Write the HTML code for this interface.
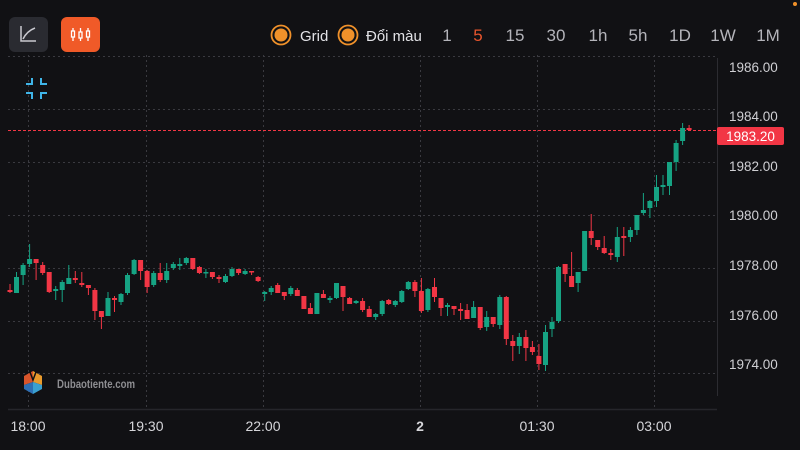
<!DOCTYPE html>
<html><head><meta charset="utf-8"><style>
html,body{margin:0;padding:0;background:#111114;}
svg{display:block}
text{font-family:"Liberation Sans",sans-serif}
</style></head><body>
<svg width="800" height="450" viewBox="0 0 800 450" xmlns="http://www.w3.org/2000/svg">
<rect width="800" height="450" fill="#111114"/>
<circle cx="795" cy="4" r="2" fill="#f0912a"/>
<rect x="9" y="17" width="39" height="35" rx="6" fill="#2a2b31"/>
<path d="M21 26 V41 H36" stroke="#c9c9cf" stroke-width="1.5" fill="none"/>
<path d="M23 39 Q27 31 35 28" stroke="#c9c9cf" stroke-width="1.5" fill="none"/>
<rect x="61" y="17" width="39" height="35" rx="6" fill="#f05a28"/>
<g stroke="#fff" stroke-width="1.3" fill="none">
<path d="M73 28 V41 M80.5 28 V41 M88 28 V41"/>
<rect x="71.5" y="31" width="3" height="6" fill="#f05a28"/>
<rect x="79" y="32" width="3" height="6" fill="#f05a28"/>
<rect x="86.5" y="31" width="3" height="6" fill="#f05a28"/>
</g>
<circle cx="281" cy="35" r="9.5" fill="none" stroke="#f0912a" stroke-width="1.8"/>
<circle cx="281" cy="35" r="6.5" fill="#f0912a"/>
<text x="300" y="41" font-size="15" fill="#e2e2e6">Grid</text>
<circle cx="348" cy="35" r="9.5" fill="none" stroke="#f0912a" stroke-width="1.8"/>
<circle cx="348" cy="35" r="6.5" fill="#f0912a"/>
<text x="366" y="41" font-size="15" fill="#e2e2e6">Đổi màu</text>
<g font-size="17" fill="#b4b4ba" text-anchor="middle">
<text x="447" y="41">1</text>
<text x="478" y="41" fill="#e8552d">5</text>
<text x="515" y="41">15</text>
<text x="556" y="41">30</text>
<text x="598" y="41">1h</text>
<text x="638" y="41">5h</text>
<text x="680" y="41">1D</text>
<text x="723" y="41">1W</text>
<text x="768" y="41">1M</text>
</g>
<g stroke="#3a3a40" stroke-width="1" stroke-dasharray="2 3">
<path d="M8 56.5H717 M8 109.5H717 M8 162.5H717 M8 215.5H717 M8 268.5H717 M8 321.5H717 M8 373.5H717"/>
<path d="M28.5 55V409 M146.5 55V409 M263.5 55V409 M420.5 55V409 M537.5 55V409 M654.5 55V409"/>
</g>
<path d="M8 409.5H717" stroke="#26262b" stroke-width="1.5"/>
<path d="M717.5 58V396" stroke="#2c2c31" stroke-width="1"/>
<g stroke="#3fb5e8" stroke-width="2" fill="none">
<path d="M26 84 H32 V78"/>
<path d="M47 84 H41 V78"/>
<path d="M26 93 H32 V99"/>
<path d="M47 93 H41 V99"/>
</g>
<g>
<polygon points="24,376 33,371 33,382 24,385" fill="#d9552b"/>
<polygon points="33,371 42,376 42,385 33,382" fill="#e89a2c"/>
<polygon points="24,385 33,382 33,394 24,389" fill="#2d6fb5"/>
<polygon points="33,382 42,385 42,389 33,394" fill="#3aa0d0"/>
<path d="M30 372 L33 380 L36 372" stroke="#111114" stroke-width="1.5" fill="none"/>
</g>
<text x="57" y="388" font-size="12" font-weight="bold" fill="#8e8e92" textLength="78" lengthAdjust="spacingAndGlyphs">Dubaotiente.com</text>
<path d="M8 130.5H717" stroke="#f23645" stroke-width="1" stroke-dasharray="3 2"/>
<g fill="#16a383">
<rect x="16" y="272" width="1" height="21"/><rect x="14" y="277" width="5" height="16"/>
<rect x="22.6" y="263" width="1" height="22"/><rect x="20.6" y="265" width="5" height="10"/>
<rect x="29.1" y="244" width="1" height="23"/><rect x="27.1" y="259" width="5" height="5"/>
<rect x="55.2" y="286" width="1" height="14"/><rect x="53.2" y="289" width="5" height="2"/>
<rect x="61.7" y="280" width="1" height="22"/><rect x="59.7" y="282" width="5" height="8"/>
<rect x="68.3" y="265" width="1" height="19"/><rect x="66.3" y="278" width="5" height="6"/>
<rect x="107.5" y="292" width="1" height="24"/><rect x="105.5" y="298" width="5" height="18"/>
<rect x="120.5" y="293" width="1" height="12"/><rect x="118.5" y="294" width="5" height="8"/>
<rect x="127" y="273" width="1" height="22"/><rect x="125" y="275" width="5" height="18"/>
<rect x="133.6" y="259" width="1" height="16"/><rect x="131.6" y="260" width="5" height="14"/>
<rect x="153.2" y="271" width="1" height="16"/><rect x="151.2" y="273" width="5" height="12"/>
<rect x="166.2" y="263" width="1" height="20"/><rect x="164.2" y="271" width="5" height="9"/>
<rect x="172.8" y="262" width="1" height="8"/><rect x="170.8" y="264" width="5" height="4"/>
<rect x="179.3" y="258" width="1" height="12"/><rect x="177.3" y="264" width="5" height="2"/>
<rect x="185.8" y="257" width="1" height="8"/><rect x="183.8" y="258" width="5" height="5"/>
<rect x="205.4" y="269" width="1" height="9"/><rect x="203.4" y="272" width="5" height="1.5"/>
<rect x="225" y="274" width="1" height="9"/><rect x="223" y="276" width="5" height="6"/>
<rect x="231.5" y="267" width="1" height="10"/><rect x="229.5" y="269" width="5" height="7"/>
<rect x="244.6" y="269" width="1" height="6"/><rect x="242.6" y="271" width="5" height="3"/>
<rect x="264.2" y="291" width="1" height="10"/><rect x="262.2" y="292" width="5" height="2"/>
<rect x="270.7" y="286" width="1" height="9"/><rect x="268.7" y="288" width="5" height="4"/>
<rect x="290.3" y="286" width="1" height="10"/><rect x="288.3" y="288" width="5" height="6"/>
<rect x="316.4" y="293" width="1" height="21"/><rect x="314.4" y="293" width="5" height="21"/>
<rect x="329.5" y="296" width="1" height="7"/><rect x="327.5" y="298" width="5" height="2"/>
<rect x="336" y="283" width="1" height="16"/><rect x="334" y="283" width="5" height="15"/>
<rect x="355.6" y="300" width="1" height="4"/><rect x="353.6" y="301" width="5" height="2"/>
<rect x="375.2" y="313" width="1" height="7"/><rect x="373.2" y="314" width="5" height="3"/>
<rect x="381.7" y="300" width="1" height="16"/><rect x="379.7" y="301" width="5" height="13"/>
<rect x="394.8" y="300" width="1" height="7"/><rect x="392.8" y="301" width="5" height="4"/>
<rect x="401.3" y="290" width="1" height="13"/><rect x="399.3" y="291" width="5" height="11"/>
<rect x="407.8" y="281" width="1" height="9"/><rect x="405.8" y="282" width="5" height="7"/>
<rect x="427.4" y="288" width="1" height="24"/><rect x="425.4" y="289" width="5" height="21"/>
<rect x="447" y="303" width="1" height="13"/><rect x="445" y="305" width="5" height="2"/>
<rect x="473.1" y="301" width="1" height="17"/><rect x="471.1" y="307" width="5" height="11"/>
<rect x="486.2" y="311" width="1" height="20"/><rect x="484.2" y="317" width="5" height="10"/>
<rect x="499.3" y="295" width="1" height="34"/><rect x="497.3" y="297" width="5" height="28"/>
<rect x="518.8" y="333" width="1" height="21"/><rect x="516.8" y="337" width="5" height="9"/>
<rect x="545" y="325" width="1" height="46"/><rect x="543" y="332" width="5" height="33"/>
<rect x="551.5" y="317" width="1" height="20"/><rect x="549.5" y="322" width="5" height="7"/>
<rect x="558" y="266" width="1" height="57"/><rect x="556" y="267" width="5" height="54"/>
<rect x="577.6" y="272" width="1" height="20"/><rect x="575.6" y="272" width="5" height="11"/>
<rect x="584.1" y="231" width="1" height="40"/><rect x="582.1" y="231" width="5" height="40"/>
<rect x="616.8" y="227" width="1" height="35"/><rect x="614.8" y="237" width="5" height="20"/>
<rect x="629.9" y="227" width="1" height="15"/><rect x="627.9" y="230" width="5" height="7"/>
<rect x="636.4" y="215" width="1" height="20"/><rect x="634.4" y="215" width="5" height="15"/>
<rect x="642.9" y="193" width="1" height="22"/><rect x="640.9" y="210" width="5" height="3"/>
<rect x="649.4" y="200" width="1" height="18"/><rect x="647.4" y="201" width="5" height="7"/>
<rect x="656" y="175" width="1" height="32"/><rect x="654" y="187" width="5" height="14"/>
<rect x="662.5" y="175" width="1" height="20"/><rect x="660.5" y="185" width="5" height="2"/>
<rect x="669" y="162" width="1" height="33"/><rect x="667" y="162" width="5" height="24"/>
<rect x="675.6" y="140" width="1" height="31"/><rect x="673.6" y="143" width="5" height="19"/>
<rect x="682.1" y="123" width="1" height="22"/><rect x="680.1" y="128" width="5" height="13"/>
</g>
<g fill="#f23645">
<rect x="9.5" y="284" width="1" height="9"/><rect x="7.5" y="290" width="5" height="2"/>
<rect x="35.6" y="259" width="1" height="21"/><rect x="33.6" y="259" width="5" height="4"/>
<rect x="42.2" y="262" width="1" height="13"/><rect x="40.2" y="265" width="5" height="8"/>
<rect x="48.7" y="272" width="1" height="21"/><rect x="46.7" y="272" width="5" height="20"/>
<rect x="74.8" y="271" width="1" height="12"/><rect x="72.8" y="278" width="5" height="2"/>
<rect x="81.3" y="272" width="1" height="15"/><rect x="79.3" y="283" width="5" height="2"/>
<rect x="87.9" y="285" width="1" height="10"/><rect x="85.9" y="285" width="5" height="3"/>
<rect x="94.4" y="288" width="1" height="32"/><rect x="92.4" y="290" width="5" height="21"/>
<rect x="100.9" y="311" width="1" height="18"/><rect x="98.9" y="311" width="5" height="6"/>
<rect x="114" y="296" width="1" height="16"/><rect x="112" y="298" width="5" height="2"/>
<rect x="140.1" y="260" width="1" height="20"/><rect x="138.1" y="260" width="5" height="11"/>
<rect x="146.6" y="270" width="1" height="23"/><rect x="144.6" y="271" width="5" height="16"/>
<rect x="159.7" y="263" width="1" height="19"/><rect x="157.7" y="273" width="5" height="7"/>
<rect x="192.3" y="258" width="1" height="12"/><rect x="190.3" y="258" width="5" height="11"/>
<rect x="198.9" y="266" width="1" height="8"/><rect x="196.9" y="267" width="5" height="6"/>
<rect x="211.9" y="272" width="1" height="7"/><rect x="209.9" y="272" width="5" height="5"/>
<rect x="218.5" y="275" width="1" height="8"/><rect x="216.5" y="277" width="5" height="2"/>
<rect x="238.1" y="269" width="1" height="6"/><rect x="236.1" y="269" width="5" height="4"/>
<rect x="251.1" y="271" width="1" height="4"/><rect x="249.1" y="271" width="5" height="1.5"/>
<rect x="257.6" y="276" width="1" height="6"/><rect x="255.6" y="277" width="5" height="4"/>
<rect x="277.2" y="283" width="1" height="10"/><rect x="275.2" y="285" width="5" height="8"/>
<rect x="283.8" y="292" width="1" height="8"/><rect x="281.8" y="292" width="5" height="4"/>
<rect x="296.8" y="288" width="1" height="8"/><rect x="294.8" y="290" width="5" height="6"/>
<rect x="303.4" y="296" width="1" height="13"/><rect x="301.4" y="296" width="5" height="13"/>
<rect x="309.9" y="303" width="1" height="11"/><rect x="307.9" y="308" width="5" height="6"/>
<rect x="322.9" y="290" width="1" height="8"/><rect x="320.9" y="294" width="5" height="4"/>
<rect x="342.5" y="286" width="1" height="25"/><rect x="340.5" y="286" width="5" height="11"/>
<rect x="349.1" y="297" width="1" height="7"/><rect x="347.1" y="298" width="5" height="6"/>
<rect x="362.1" y="298" width="1" height="14"/><rect x="360.1" y="301" width="5" height="9"/>
<rect x="368.7" y="306" width="1" height="11"/><rect x="366.7" y="309" width="5" height="8"/>
<rect x="388.2" y="299" width="1" height="6"/><rect x="386.2" y="300" width="5" height="4"/>
<rect x="414.4" y="280" width="1" height="17"/><rect x="412.4" y="282" width="5" height="9"/>
<rect x="420.9" y="278" width="1" height="35"/><rect x="418.9" y="291" width="5" height="20"/>
<rect x="434" y="278" width="1" height="24"/><rect x="432" y="287" width="5" height="10"/>
<rect x="440.5" y="298" width="1" height="18"/><rect x="438.5" y="298" width="5" height="10"/>
<rect x="453.5" y="306" width="1" height="9"/><rect x="451.5" y="306" width="5" height="3"/>
<rect x="460.1" y="303" width="1" height="17"/><rect x="458.1" y="309" width="5" height="2"/>
<rect x="466.6" y="304" width="1" height="15"/><rect x="464.6" y="310" width="5" height="9"/>
<rect x="479.7" y="307" width="1" height="23"/><rect x="477.7" y="307" width="5" height="21"/>
<rect x="492.7" y="317" width="1" height="10"/><rect x="490.7" y="317" width="5" height="7"/>
<rect x="505.8" y="296" width="1" height="49"/><rect x="503.8" y="297" width="5" height="42"/>
<rect x="512.3" y="335" width="1" height="26"/><rect x="510.3" y="341" width="5" height="5"/>
<rect x="525.4" y="330" width="1" height="31"/><rect x="523.4" y="337" width="5" height="11"/>
<rect x="531.9" y="341" width="1" height="14"/><rect x="529.9" y="347" width="5" height="5"/>
<rect x="538.4" y="344" width="1" height="26"/><rect x="536.4" y="356" width="5" height="8"/>
<rect x="564.6" y="264" width="1" height="18"/><rect x="562.6" y="264" width="5" height="10"/>
<rect x="571.1" y="252" width="1" height="35"/><rect x="569.1" y="276" width="5" height="11"/>
<rect x="590.7" y="214" width="1" height="31"/><rect x="588.7" y="231" width="5" height="7"/>
<rect x="597.2" y="240" width="1" height="10"/><rect x="595.2" y="240" width="5" height="7"/>
<rect x="603.7" y="236" width="1" height="18"/><rect x="601.7" y="248" width="5" height="5"/>
<rect x="610.3" y="249" width="1" height="11"/><rect x="608.3" y="253" width="5" height="2"/>
<rect x="623.3" y="227" width="1" height="29"/><rect x="621.3" y="236" width="5" height="2"/>
<rect x="688.6" y="125" width="1" height="6"/><rect x="686.6" y="128" width="5" height="2"/>
</g>
<defs><clipPath id="ax"><rect x="718" y="62" width="82" height="340"/></clipPath></defs>
<g font-size="13.5" fill="#cfcfd3" clip-path="url(#ax)">
<text x="729" y="72">1986.00</text>
<text x="729" y="121">1984.00</text>
<text x="729" y="171">1982.00</text>
<text x="729" y="220">1980.00</text>
<text x="729" y="270">1978.00</text>
<text x="729" y="320">1976.00</text>
<text x="729" y="369">1974.00</text>
</g>
<rect x="717" y="127" width="67" height="18" rx="2" fill="#f23645"/>
<text x="750.5" y="141" font-size="13.5" fill="#ffffff" text-anchor="middle">1983.20</text>
<g font-size="14" fill="#d6d6da" text-anchor="middle">
<text x="28" y="431">18:00</text>
<text x="146" y="431">19:30</text>
<text x="263" y="431">22:00</text>
<text x="420" y="431" font-weight="bold">2</text>
<text x="537" y="431">01:30</text>
<text x="654" y="431">03:00</text>
</g>
</svg>
</body></html>
